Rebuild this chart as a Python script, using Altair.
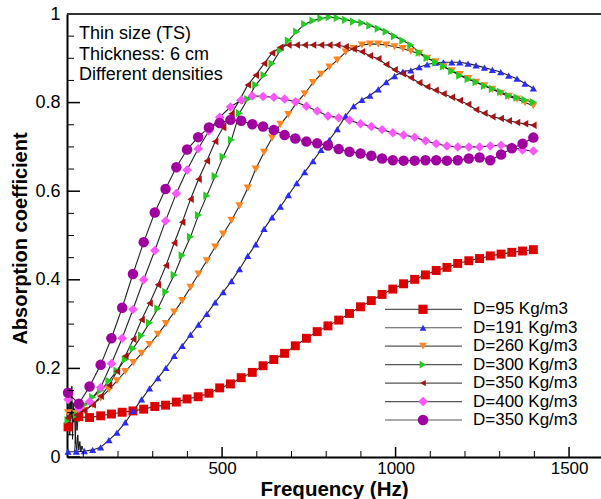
import altair as alt
import pandas as pd

# ---------------- data ----------------
FREQ_A = [56, 87, 118, 150, 181, 212, 243, 274, 306, 337, 368, 399, 431, 462, 493,
          524, 555, 587, 618, 649, 680, 711, 743, 774, 805, 836, 867, 899, 930, 961,
          992, 1023, 1055, 1086, 1117, 1148, 1179, 1211, 1242, 1273, 1304, 1335, 1366, 1397]

FREQ_B = [56, 80, 103, 127, 150, 174, 197, 221, 244, 268, 291, 315, 338, 362, 385,
          409, 432, 456, 480, 503, 527, 550, 574, 597, 621, 644, 668, 691, 715, 738,
          762, 785, 809, 832, 856, 879, 903, 926, 950, 973, 997, 1021, 1044, 1068, 1091,
          1115, 1138, 1162, 1185, 1209, 1232, 1256, 1279, 1303, 1326, 1350, 1373, 1397]

D95 = [0.068, 0.091, 0.089, 0.093, 0.097, 0.101, 0.104, 0.108, 0.114, 0.117, 0.124,
       0.131, 0.136, 0.144, 0.156, 0.165, 0.179, 0.191, 0.206, 0.220, 0.234, 0.251,
       0.268, 0.283, 0.296, 0.309, 0.324, 0.339, 0.353, 0.367, 0.379, 0.391, 0.401,
       0.411, 0.421, 0.428, 0.437, 0.443, 0.448, 0.454, 0.458, 0.462, 0.465, 0.468]

D400 = [0.130, 0.110, 0.125, 0.157, 0.211, 0.268, 0.333, 0.400, 0.466, 0.533, 0.595,
        0.648, 0.696, 0.736, 0.767, 0.790, 0.806, 0.815, 0.814, 0.812, 0.808, 0.802,
        0.792, 0.781, 0.770, 0.766, 0.760, 0.752, 0.746, 0.739, 0.732, 0.727, 0.722,
        0.714, 0.707, 0.702, 0.700, 0.700, 0.700, 0.702, 0.704, 0.700, 0.693, 0.691]

D350_C = [0.145, 0.120, 0.159, 0.208, 0.268, 0.337, 0.413, 0.485, 0.552, 0.605, 0.654,
          0.694, 0.722, 0.744, 0.754, 0.761, 0.759, 0.751, 0.746, 0.738, 0.727, 0.719,
          0.712, 0.708, 0.703, 0.695, 0.689, 0.685, 0.680, 0.674, 0.670, 0.669, 0.669,
          0.670, 0.670, 0.669, 0.670, 0.674, 0.676, 0.670, 0.683, 0.697, 0.707, 0.721]

D191 = [0.012, 0.012, 0.013, 0.016, 0.022, 0.038, 0.055, 0.078, 0.104, 0.130, 0.155,
        0.178, 0.201, 0.228, 0.251, 0.276, 0.299, 0.323, 0.349, 0.372, 0.397, 0.424,
        0.454, 0.480, 0.515, 0.541, 0.565, 0.591, 0.618, 0.643, 0.668, 0.693, 0.716,
        0.740, 0.770, 0.792, 0.806, 0.816, 0.830, 0.846, 0.860, 0.870, 0.873, 0.880,
        0.886, 0.890, 0.891, 0.891, 0.891, 0.888, 0.884, 0.879, 0.874, 0.869, 0.861,
        0.854, 0.843, 0.832]

D260 = [0.100, 0.098, 0.105, 0.118, 0.133, 0.152, 0.172, 0.193, 0.213, 0.234, 0.254,
        0.277, 0.301, 0.327, 0.353, 0.383, 0.413, 0.443, 0.474, 0.503, 0.534, 0.567,
        0.607, 0.650, 0.688, 0.720, 0.751, 0.773, 0.800, 0.820, 0.845, 0.864, 0.880,
        0.896, 0.914, 0.922, 0.930, 0.932, 0.932, 0.930, 0.926, 0.922, 0.916, 0.911,
        0.900, 0.892, 0.881, 0.872, 0.863, 0.854, 0.846, 0.838, 0.830, 0.821, 0.814,
        0.808, 0.800, 0.793]

D300 = [0.083, 0.095, 0.118, 0.135, 0.150, 0.172, 0.195, 0.220, 0.245, 0.274, 0.303,
        0.335, 0.373, 0.411, 0.455, 0.497, 0.546, 0.590, 0.634, 0.678, 0.716, 0.776,
        0.808, 0.840, 0.862, 0.888, 0.918, 0.940, 0.960, 0.977, 0.985, 0.990, 0.993,
        0.991, 0.987, 0.983, 0.980, 0.974, 0.967, 0.960, 0.950, 0.940, 0.930, 0.913,
        0.901, 0.891, 0.882, 0.871, 0.861, 0.853, 0.846, 0.838, 0.831, 0.824, 0.816,
        0.811, 0.806, 0.801]

D350_B = [0.088, 0.095, 0.105, 0.118, 0.137, 0.162, 0.193, 0.228, 0.266, 0.310, 0.347,
          0.389, 0.432, 0.483, 0.530, 0.582, 0.627, 0.668, 0.712, 0.744, 0.775, 0.805,
          0.840, 0.862, 0.888, 0.912, 0.925, 0.930, 0.930, 0.930, 0.930, 0.930, 0.930,
          0.930, 0.926, 0.921, 0.915, 0.906, 0.899, 0.886, 0.874, 0.865, 0.856, 0.845,
          0.836, 0.828, 0.820, 0.812, 0.805, 0.796, 0.784, 0.776, 0.768, 0.764, 0.759,
          0.755, 0.752, 0.749]

# low-frequency measurement noise (black jagged trace near the origin)
NOISE_F = [57, 59, 61, 63, 65, 67, 69, 71, 73, 75, 77, 79, 82, 85, 88]
NOISE_V = [0.07, 0.15, 0.05, 0.13, 0.09, 0.16, 0.04, 0.12, 0.08, 0.11, 0.03, 0.10, 0.06, 0.09, 0.08]
NOISE2_F = [75, 78, 81, 84, 87, 90, 93, 96, 100]
NOISE2_V = [0.012, 0.045, 0.010, 0.050, 0.015, 0.035, 0.012, 0.025, 0.015]

KEYS = ["s95", "s191", "s260", "s300", "s350b", "s400", "s350c"]
LABELS = ["D=95 Kg/m3", "D=191 Kg/m3", "D=260 Kg/m3", "D=300 Kg/m3",
          "D=350 Kg/m3", "D=400 Kg/m3", "D=350 Kg/m3"]
COLORS = ["#dd0000", "#2a2aff", "#ff8422", "#22cc22", "#aa1111", "#ff55ff", "#a000a0"]
SHAPES = ["square", "triangle-up", "triangle-down", "triangle-right",
          "triangle-left", "diamond", "circle"]
SIZES = [80, 52, 68, 68, 56, 90, 110]
LEG_SIZES = [85, 45, 60, 60, 40, 90, 110]

ANNOT = "Thin size (TS)\nThickness: 6 cm\nDifferent densities"
Y_MAJOR = [0, 0.2, 0.4, 0.6, 0.8, 1.0]
Y_MINOR = [0.05, 0.1, 0.15, 0.25, 0.3, 0.35, 0.45, 0.5, 0.55, 0.65, 0.7, 0.75,
           0.85, 0.9, 0.95]
X_MAJOR = [500, 1000, 1500]
X_MINOR = [100, 200, 300, 400, 600, 700, 800, 900, 1100, 1200, 1300, 1400]

# ---------------- table ----------------
series = [
    ("s95", FREQ_A, D95), ("s191", FREQ_B, D191), ("s260", FREQ_B, D260),
    ("s300", FREQ_B, D300), ("s350b", FREQ_B, D350_B), ("s400", FREQ_A, D400),
    ("s350c", FREQ_A, D350_C),
]
size_of = dict(zip(KEYS, SIZES))
rows = []
for order, (k, fr, vals) in enumerate(series):
    for f, v in zip(fr, vals):
        rows.append({"key": k, "freq": f, "value": v, "ord": order, "sz": size_of[k]})
df = pd.DataFrame(rows)

noise_rows = [{"freq": f, "value": v, "n": "a"} for f, v in zip(NOISE_F, NOISE_V)]
noise_rows += [{"freq": f, "value": v, "n": "b"} for f, v in zip(NOISE2_F, NOISE2_V)]
noise_df = pd.DataFrame(noise_rows)

W, H = 534, 443
FONT = "Liberation Sans"

xscale = alt.Scale(domain=[53, 1592], nice=False, zero=False)
yscale = alt.Scale(domain=[0, 1], nice=False)
cscale = alt.Scale(domain=KEYS, range=COLORS)
shscale = alt.Scale(domain=KEYS, range=SHAPES)

xaxis = alt.Axis(values=X_MAJOR, format="d", grid=False, ticks=False, tickSize=0,
                 labelPadding=3, labelFontSize=17, labelFont=FONT, labelColor="black",
                 domainColor="black", domainWidth=2, title="Frequency (Hz)",
                 titleFont=FONT, titleFontSize=20.5, titleFontWeight="bold",
                 titleColor="black", titleBaseline="alphabetic", titleY=38)
yaxis = alt.Axis(values=Y_MAJOR, format="~g", grid=False, ticks=False, tickSize=0,
                 labelPadding=7, labelFontSize=18, labelFont=FONT, labelColor="black",
                 domainColor="black", domainWidth=2, title="Absorption coefficient",
                 titleFont=FONT, titleFontSize=20, titleFontWeight="bold",
                 titleColor="black", titleAngle=270, titleAlign="center",
                 titleBaseline="middle", titleX=-47, titleY=224)

base = alt.Chart(df)
lines = base.mark_line(color="#222222", strokeWidth=1.1).encode(
    x=alt.X("freq:Q", scale=xscale, axis=xaxis),
    y=alt.Y("value:Q", scale=yscale, axis=yaxis),
    detail="key:N",
)
noise = alt.Chart(noise_df).mark_line(color="#111111", strokeWidth=1).encode(
    x=alt.X("freq:Q", scale=xscale),
    y=alt.Y("value:Q", scale=yscale),
    detail="n:N",
)
points = base.mark_point(filled=True, opacity=1, strokeWidth=0).encode(
    x=alt.X("freq:Q", scale=xscale),
    y=alt.Y("value:Q", scale=yscale),
    color=alt.Color("key:N", scale=cscale, legend=None),
    shape=alt.Shape("key:N", scale=shscale, legend=None),
    size=alt.Size("sz:Q", scale=None, legend=None),
    order=alt.Order("ord:Q"),
)

ymaj = alt.Chart(pd.DataFrame({"v": Y_MAJOR})).mark_rule(color="black", strokeWidth=1.5).encode(
    y=alt.Y("v:Q", scale=yscale), x=alt.value(0), x2=alt.value(13))
ymin = alt.Chart(pd.DataFrame({"v": Y_MINOR})).mark_rule(color="black", strokeWidth=1).encode(
    y=alt.Y("v:Q", scale=yscale), x=alt.value(0), x2=alt.value(7))
xmaj = alt.Chart(pd.DataFrame({"f": X_MAJOR})).mark_rule(color="black", strokeWidth=1.5).encode(
    x=alt.X("f:Q", scale=xscale), y=alt.value(H), y2=alt.value(H - 10))
xmin = alt.Chart(pd.DataFrame({"f": X_MINOR})).mark_rule(color="black", strokeWidth=1).encode(
    x=alt.X("f:Q", scale=xscale), y=alt.value(H), y2=alt.value(H - 6))
topline = alt.Chart(pd.DataFrame({"a": [0]})).mark_rule(color="#333333", strokeWidth=2).encode(
    x=alt.value(0), x2=alt.value(W), y=alt.value(0))

annot = alt.Chart(pd.DataFrame({"t": [ANNOT]})).mark_text(
    align="left", baseline="top", fontSize=18, font=FONT, lineHeight=20.5,
    lineBreak="\n", color="black").encode(
    text="t:N", x=alt.value(12), y=alt.value(11))

main = alt.layer(lines, noise, points, ymaj, ymin, xmaj, xmin, topline, annot)

leg_df = pd.DataFrame({"key": KEYS, "label": LABELS, "row": list(range(len(KEYS))),
                       "sz": LEG_SIZES})
ly = alt.Y("row:Q", scale=alt.Scale(domain=[0, 6], range=[295.3, 406]), axis=None)
leg_line = alt.Chart(leg_df).mark_rule(color="#555555", strokeWidth=1.2).encode(
    y=ly, x=alt.value(318), x2=alt.value(395))
leg_pt = alt.Chart(leg_df).mark_point(filled=True, opacity=1, strokeWidth=0).encode(
    y=ly, x=alt.value(356),
    color=alt.Color("key:N", scale=cscale, legend=None),
    shape=alt.Shape("key:N", scale=shscale, legend=None),
    size=alt.Size("sz:Q", scale=None, legend=None))
leg_txt = alt.Chart(leg_df).mark_text(align="left", baseline="middle", fontSize=17,
                                      font=FONT, color="black").encode(
    y=ly, x=alt.value(406), text="label:N")
legend = alt.layer(leg_line, leg_pt, leg_txt)

chart = alt.layer(main, legend).resolve_scale(y="independent").properties(
    width=W, height=H,
    padding={"left": 67, "top": 14, "right": 0, "bottom": 42},
    autosize=alt.AutoSizeParams(type="none"),
    background="white",
).configure_view(stroke=None)

chart.save("out.html", embed_options={"renderer": "svg", "actions": False})
